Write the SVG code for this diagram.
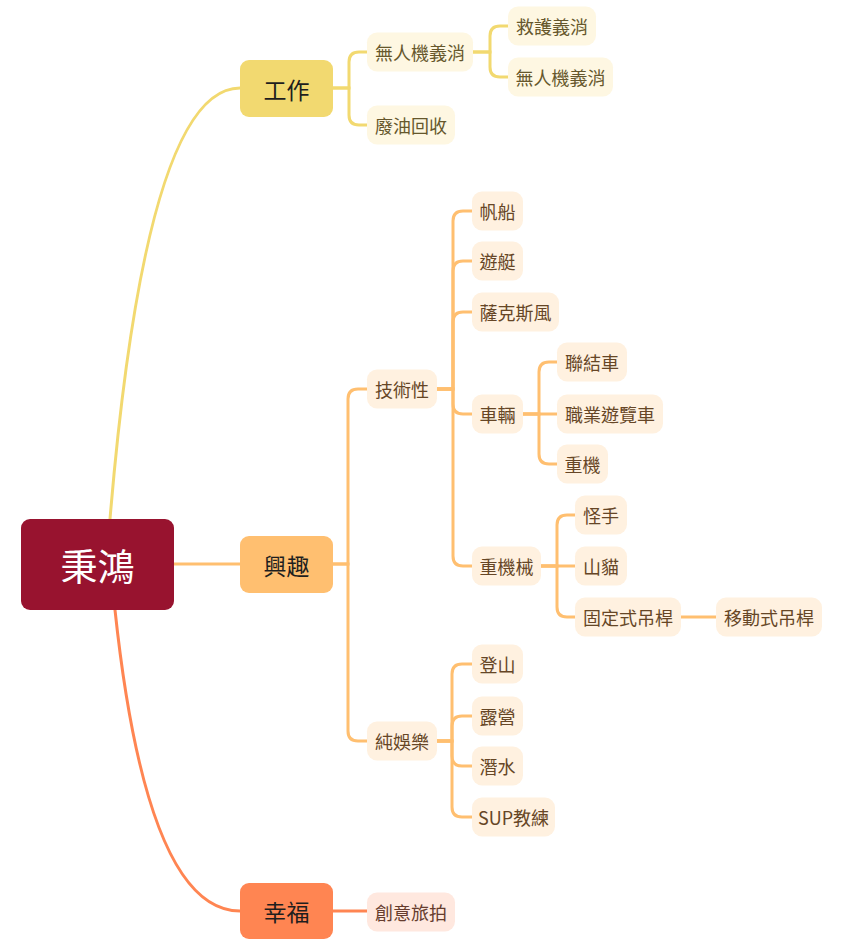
<svg xmlns="http://www.w3.org/2000/svg" width="865" height="945" viewBox="0 0 865 945">
<style>
text{font-family:"Noto Sans CJK TC","Noto Sans CJK SC",sans-serif;text-anchor:middle;dominant-baseline:central}
.c{fill:none;stroke-width:3;stroke-linecap:round}
.cy{stroke:#F2D970}.co{stroke:#FFBF70}.cr{stroke:#FF8552}
.l1{font-size:23px;fill:#1e1e1e}
.l2{font-size:18px}
.wy rect{fill:#FEF7E2}.wy text{fill:#66572c}
.wo rect{fill:#FFF1E0}.wo text{fill:#664626}
.wr rect{fill:#FFE8DF}.wr text{fill:#663c2e}
</style>
<rect width="865" height="945" fill="#ffffff"/>
<g id="connectors">
<path class="c cy" d="M110,519 Q146,88 240,88"/>
<path class="c co" d="M174,564 H240"/>
<path class="c cr" d="M115,610 Q147,911 240,911"/>
<path class="c cy" d="M333,88 H349 V62 Q349,52 359,52 H367"/>
<path class="c cy" d="M333,88 H349 V115 Q349,125 359,125 H367"/>
<path class="c cy" d="M473,52 H490 V36 Q490,26 500,26 H508"/>
<path class="c cy" d="M473,52 H490 V67 Q490,77 500,77 H508"/>
<path class="c co" d="M333,564 H348 V399 Q348,389 358,389 H367"/>
<path class="c co" d="M333,564 H348 V731 Q348,741 358,741 H367"/>
<path class="c co" d="M437,389 H453 V221 Q453,211 463,211 H472"/>
<path class="c co" d="M437,389 H453 V271 Q453,261 463,261 H472"/>
<path class="c co" d="M437,389 H453 V322 Q453,312 463,312 H472"/>
<path class="c co" d="M437,389 H453 V404 Q453,414 463,414 H472"/>
<path class="c co" d="M437,389 H453 V556 Q453,566 463,566 H472"/>
<path class="c co" d="M523,414 H539 V372 Q539,362 549,362 H557"/>
<path class="c co" d="M523,414 H557"/>
<path class="c co" d="M523,414 H539 V454 Q539,464 549,464 H557"/>
<path class="c co" d="M541,566 H557 V525 Q557,515 567,515 H575"/>
<path class="c co" d="M541,566 H575"/>
<path class="c co" d="M541,566 H557 V607 Q557,617 567,617 H575"/>
<path class="c co" d="M681,617 H716"/>
<path class="c co" d="M437,741 H452 V674 Q452,664 462,664 H472"/>
<path class="c co" d="M437,741 H452 V726 Q452,716 462,716 H472"/>
<path class="c co" d="M437,741 H452 V756 Q452,766 462,766 H472"/>
<path class="c co" d="M437,741 H452 V807 Q452,817 462,817 H472"/>
<path class="c cr" d="M333,911 H367"/>
</g>
<g id="root"><rect x="21" y="519" width="153" height="91" rx="9" fill="#98132F"/><text x="97.5" y="565" font-size="37" fill="#ffffff">秉鴻</text></g>
<g id="work"><rect x="240" y="60" width="93" height="57" rx="9" fill="#F2D970"/><text class="l1" x="286.5" y="88.5">工作</text></g>
<g id="interest"><rect x="240" y="536" width="93" height="57" rx="9" fill="#FFBF70"/><text class="l1" x="286.5" y="564.5">興趣</text></g>
<g id="happy"><rect x="240" y="883" width="93" height="56" rx="9" fill="#FF8552"/><text class="l1" x="286.5" y="911">幸福</text></g>
<g id="drone" class="wy"><rect x="367" y="32.5" width="106" height="39" rx="10"/><text class="l2" x="420" y="52">無人機義消</text></g>
<g id="oil" class="wy"><rect x="367" y="105.5" width="88" height="39" rx="10"/><text class="l2" x="411" y="125">廢油回收</text></g>
<g id="rescue" class="wy"><rect x="508" y="6.5" width="88" height="39" rx="10"/><text class="l2" x="552" y="26">救護義消</text></g>
<g id="drone2" class="wy"><rect x="508" y="57.5" width="105" height="39" rx="10"/><text class="l2" x="560.5" y="77">無人機義消</text></g>
<g id="tech" class="wo"><rect x="367" y="369.5" width="70" height="39" rx="10"/><text class="l2" x="402" y="389">技術性</text></g>
<g id="fun" class="wo"><rect x="367" y="721.5" width="70" height="39" rx="10"/><text class="l2" x="402" y="741">純娛樂</text></g>
<g id="sail" class="wo"><rect x="472" y="191.5" width="51" height="39" rx="10"/><text class="l2" x="497.5" y="211">帆船</text></g>
<g id="yacht" class="wo"><rect x="472" y="241.5" width="51" height="39" rx="10"/><text class="l2" x="497.5" y="261">遊艇</text></g>
<g id="sax" class="wo"><rect x="472" y="292.5" width="87" height="39" rx="10"/><text class="l2" x="515.5" y="312">薩克斯風</text></g>
<g id="vehicle" class="wo"><rect x="472" y="394.5" width="51" height="39" rx="10"/><text class="l2" x="497.5" y="414">車輛</text></g>
<g id="heavy" class="wo"><rect x="472" y="546.5" width="69" height="39" rx="10"/><text class="l2" x="506.5" y="566">重機械</text></g>
<g id="trailer" class="wo"><rect x="557" y="342.5" width="70" height="39" rx="10"/><text class="l2" x="592" y="362">聯結車</text></g>
<g id="bus" class="wo"><rect x="557" y="394.5" width="106" height="39" rx="10"/><text class="l2" x="610" y="414">職業遊覽車</text></g>
<g id="moto" class="wo"><rect x="557" y="444.5" width="51" height="39" rx="10"/><text class="l2" x="582.5" y="464">重機</text></g>
<g id="excavator" class="wo"><rect x="575" y="495.5" width="52" height="39" rx="10"/><text class="l2" x="601" y="515">怪手</text></g>
<g id="bobcat" class="wo"><rect x="575" y="546.5" width="52" height="39" rx="10"/><text class="l2" x="601" y="566">山貓</text></g>
<g id="fixedcrane" class="wo"><rect x="575" y="597.5" width="106" height="39" rx="10"/><text class="l2" x="628" y="617">固定式吊桿</text></g>
<g id="mobilecrane" class="wo"><rect x="716" y="597.5" width="106" height="39" rx="10"/><text class="l2" x="769" y="617">移動式吊桿</text></g>
<g id="hike" class="wo"><rect x="472" y="644.5" width="51" height="39" rx="10"/><text class="l2" x="497.5" y="664">登山</text></g>
<g id="camp" class="wo"><rect x="472" y="696.5" width="51" height="39" rx="10"/><text class="l2" x="497.5" y="716">露營</text></g>
<g id="dive" class="wo"><rect x="472" y="746.5" width="51" height="39" rx="10"/><text class="l2" x="497.5" y="766">潛水</text></g>
<g id="sup" class="wo"><rect x="472" y="797.5" width="83" height="39" rx="10"/><text class="l2" x="513.5" y="817">SUP教練</text></g>
<g id="photo" class="wr"><rect x="367" y="892.5" width="88" height="39" rx="10"/><text class="l2" x="411" y="912">創意旅拍</text></g>
</svg>
